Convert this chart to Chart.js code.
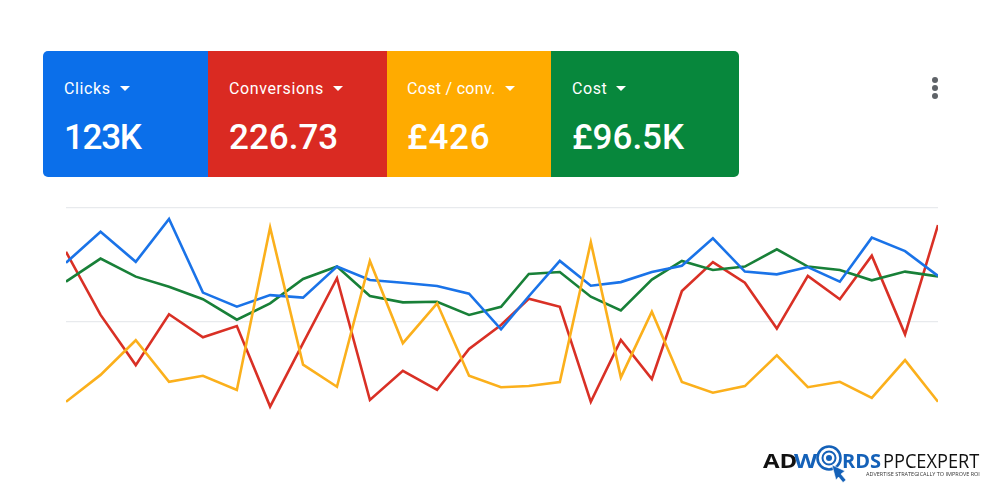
<!DOCTYPE html>
<html><head><meta charset="utf-8">
<script src="https://cdn.jsdelivr.net/npm/chart.js@4"></script>
<style>
html,body{margin:0;padding:0;background:#fff;width:1000px;height:500px;overflow:hidden}
canvas{position:absolute;left:0;top:0}
.card{position:absolute;top:51px;height:126px;color:#fff;font-family:Roboto,sans-serif}
.lab{position:absolute;top:28px;font-size:16px;line-height:20px;white-space:nowrap;letter-spacing:.6px}
.car{display:inline-block;width:0;height:0;border-left:5.5px solid transparent;border-right:5.5px solid transparent;border-top:5.5px solid #fff;margin-left:9px;vertical-align:3px}
.val{position:absolute;top:65px;font-size:35px;line-height:44px;font-weight:500;white-space:nowrap}
.dot{position:absolute;left:932px;width:6px;height:6px;border-radius:50%;background:#5f6368}
.logo{position:absolute;font-family:"Open Sans",sans-serif;font-size:20px;line-height:20px;top:451px;white-space:nowrap;transform-origin:0 50%}
</style></head><body>
<canvas id="c" width="1000" height="500"></canvas>
<div class="card" style="left:43px;width:165px;background:#0b6fea;border-radius:5px 0 0 5px"><div class="lab" style="left:21px">Clicks<span class="car"></span></div><div class="val" style="left:21px;letter-spacing:-1.3px">123K</div></div>
<div class="card" style="left:208px;width:179px;background:#da2a22"><div class="lab" style="left:21px">Conversions<span class="car"></span></div><div class="val" style="left:21px">226.73</div></div>
<div class="card" style="left:387px;width:164px;background:#ffab00"><div class="lab" style="left:20px;letter-spacing:.3px">Cost / conv.<span class="car"></span></div><div class="val" style="left:20px;letter-spacing:.8px">£426</div></div>
<div class="card" style="left:551px;width:188px;background:#07873c;border-radius:0 5px 5px 0"><div class="lab" style="left:21px">Cost<span class="car"></span></div><div class="val" style="left:21px">£96.5K</div></div>
<div class="dot" style="top:77px"></div><div class="dot" style="top:85px"></div><div class="dot" style="top:93px"></div>
<div class="logo" style="left:763px;font-weight:700;color:#111;transform:scaleX(1.2)">AD</div>
<div class="logo" style="left:794px;font-weight:700;color:#1461b8;transform:scaleX(1.2)">W</div>
<svg style="position:absolute;left:814px;top:444px" width="40" height="42" viewBox="0 0 40 42">
<circle cx="15" cy="14" r="11.5" fill="#fff" stroke="#1461b8" stroke-width="2.6"/>
<circle cx="15" cy="14" r="6.5" fill="none" stroke="#1461b8" stroke-width="2"/>
<circle cx="15" cy="14" r="3" fill="#1461b8"/>
<path d="M18 21 L31 27 L27 30 L32 36 L29 38.5 L24.5 33 L22 36 Z" fill="#1461b8" stroke="#fff" stroke-width=".6"/>
</svg>
<div class="logo" style="left:842px;font-weight:700;color:#1461b8">RDS</div>
<div class="logo" style="left:883px;color:#111;transform:scaleX(.91)">PPCEXPERT</div>
<div class="logo" style="left:866px;top:469px;font-size:6.1px;line-height:9px;color:#333;transform:scaleX(.9)">ADVERTISE STRATEGICALLY TO IMPROVE ROI</div>
<script>
const positions=[0,1.07,2.16,3.19,4.24,5.29,6.32,7.34,8.39,9.41,10.43,11.49,12.48,13.47,14.33,15.29,16.25,17.18,18.14,19.07,20.03,21.02,22.01,22.97,23.96,24.95,25.98,27];
const clicks=[76.0,89.6,76.4,95.2,62.9,56.7,61.8,60.7,74.3,68.4,67.2,65.8,62.4,46.8,61.3,76.8,65.9,67.5,71.9,74.7,86.7,72.1,70.9,74.1,67.7,87.0,81.1,70.2];
const conversions=[80.8,53.1,31.1,53.4,43.3,48.2,12.9,40.7,69.2,15.8,28.6,20.2,38.2,48.7,60.2,56.7,15.0,42.1,25.0,63.6,76.3,67.2,47.1,70.2,60.0,79.1,44.6,92.5];
const costPerConv=[15.0,26.8,42.0,23.8,26.4,20.2,91.5,31.3,21.6,76.8,40.7,58.2,26.4,21.4,21.9,23.7,85.0,25.7,54.5,23.7,19.0,21.9,35.4,21.4,23.8,16.7,33.3,15.0];
const cost=[67.7,77.8,69.9,65.5,60.0,51.0,58.2,68.9,74.3,61.4,58.6,58.9,53.1,56.7,71.1,71.9,61.1,55.1,68.6,76.8,72.8,74.3,81.9,74.3,72.8,68.3,72.1,70.0];
const xy=a=>a.map((v,i)=>({x:positions[i],y:v}));
const ds=(label,a,color)=>({label,data:xy(a),borderColor:color,borderWidth:2.6,pointRadius:0,tension:0,fill:false,borderJoinStyle:'miter'});
new Chart(document.getElementById('c'),{type:'line',
data:{datasets:[ds('Cost / conv.',costPerConv,'#fbb01c'),ds('Clicks',clicks,'#1a73e8'),ds('Cost',cost,'#188038'),ds('Conversions',conversions,'#d93025')]},
options:{responsive:false,animation:false,devicePixelRatio:1,
layout:{padding:{left:66,right:62,top:208,bottom:64}},
plugins:{legend:{display:false},tooltip:{enabled:false}},
scales:{
x:{type:'linear',min:0,max:27,display:false},
y:{min:0,max:100,border:{display:false},
ticks:{display:false,stepSize:50},
grid:{drawTicks:false,lineWidth:1.2,color:c=>c.tick&&c.tick.value===0?'rgba(0,0,0,0)':'#e8eaed'}}
}}});
</script>
</body></html>
